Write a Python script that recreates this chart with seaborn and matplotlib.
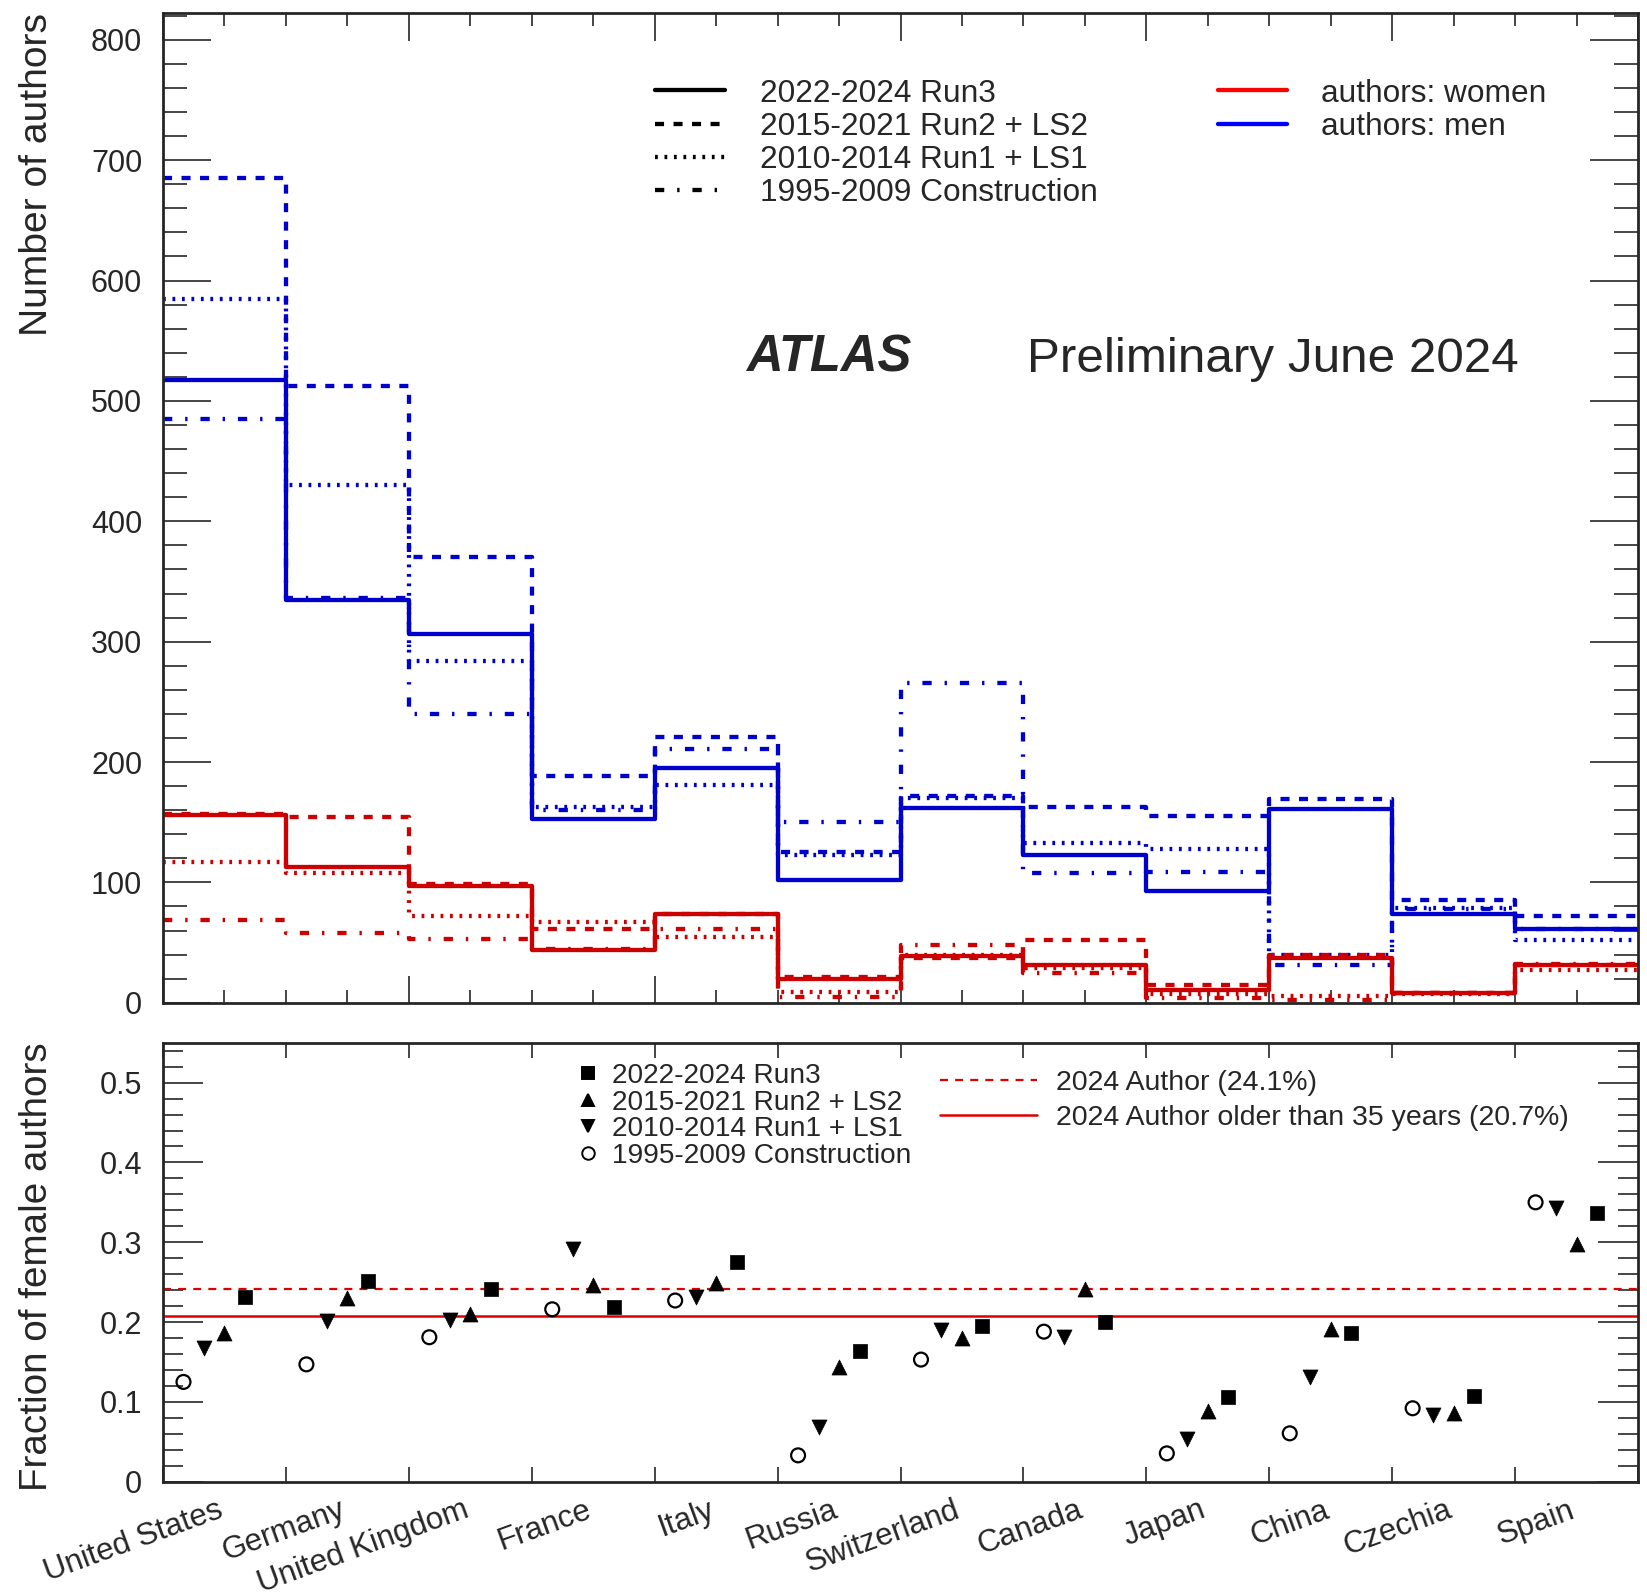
import numpy as np
import matplotlib
matplotlib.use("Agg")
import matplotlib.pyplot as plt
import seaborn as sns
from matplotlib.ticker import MultipleLocator, FixedLocator, FuncFormatter, NullFormatter
from matplotlib.lines import Line2D

# ---------------- data ----------------
countries = ["United States", "Germany", "United Kingdom", "France", "Italy", "Russia",
             "Switzerland", "Canada", "Japan", "China", "Czechia", "Spain"]

periods = ["2022-2024 Run3", "2015-2021 Run2 + LS2", "2010-2014 Run1 + LS1", "1995-2009 Construction"]

men_run3 = [517, 335, 306, 153, 195, 102, 162, 123, 93, 161, 74, 61]
men_run2 = [685, 512, 370, 188, 221, 125, 172, 163, 155, 169, 85, 72]
men_run1 = [585, 430, 284, 163, 181, 123, 170, 133, 128, 40, 79, 52]
men_constr = [485, 336, 240, 160, 211, 150, 266, 108, 109, 31, 78, 61]

women_run3 = [156, 113, 97, 44, 74, 20, 39, 31, 11, 37, 8.5, 31]
women_run2 = [157, 154, 99, 61.5, 73.5, 21.5, 37.5, 52, 15, 40, 8, 31]
women_run1 = [117, 108, 72, 67, 54.5, 9, 40, 29, 7, 6, 7.2, 27]
women_constr = [69, 58, 53, 44.5, 61.5, 5, 48, 25, 4, 2, 7.9, 32]

frac_run3 = [0.231, 0.252, 0.241, 0.219, 0.275, 0.164, 0.195, 0.200, 0.106, 0.1865, 0.107, 0.337]
frac_run2 = [0.186, 0.230, 0.210, 0.246, 0.249, 0.144, 0.180, 0.242, 0.088, 0.191, 0.086, 0.2975]
frac_run1 = [0.167, 0.201, 0.203, 0.291, 0.232, 0.068, 0.190, 0.181, 0.053, 0.131, 0.0835, 0.343]
frac_constr = [0.125, 0.147, 0.181, 0.216, 0.227, 0.033, 0.153, 0.188, 0.0355, 0.0606, 0.092, 0.350]

ref_all = 0.241
ref_old = 0.207
ref_labels = ["2024 Author (24.1%)", "2024 Author older than 35 years (20.7%)"]

# ---------------- style ----------------
sns.set_theme(style="ticks")
plt.rcParams["font.family"] = ["Liberation Sans", "DejaVu Sans"]
plt.rcParams["axes.linewidth"] = 2.0

W, H, DPI = 1647, 1592, 100
fig = plt.figure(figsize=(W / DPI, H / DPI), dpi=DPI)


def px_axes(left, top, right, bottom):
    return fig.add_axes([left / W, 1 - bottom / H, (right - left) / W, (bottom - top) / H])


ax1 = px_axes(163, 13.3, 1638, 1002.8)
ax2 = px_axes(163, 1042.7, 1638, 1481.7)

BLUE = "#0000cc"
RED = "#cc0000"
LW = 3.1
styles = ["-", (0, (2.1, 2.2)), (0, (0.65, 1.55)), (0, (2.15, 3.0, 0.55, 3.0))]

n = len(countries)
edges = np.arange(n + 1)
centers = np.arange(n) + 0.5

men = [men_run3, men_run2, men_run1, men_constr]
women = [women_run3, women_run2, women_run1, women_constr]

for series, color in ((men, BLUE), (women, RED)):
    for vals, ls in zip(series, styles):
        sns.lineplot(x=edges, y=np.append(vals, vals[-1]), drawstyle="steps-post",
                     estimator=None, errorbar=None, sort=False,
                     color=color, linewidth=LW, linestyle=ls, ax=ax1)

ax1.set_xlim(0, n)
ax1.set_ylim(0, 822)
ax1.set_xlabel("")
ax1.set_ylabel("Number of authors", fontsize=28.1, loc="top")
ax1.yaxis.set_label_coords((55 - 163) / 1475, 1.0)

ax1.yaxis.set_major_locator(MultipleLocator(100))
ax1.yaxis.set_minor_locator(MultipleLocator(20))
ax1.xaxis.set_major_locator(MultipleLocator(2))
ax1.xaxis.set_minor_locator(MultipleLocator(0.5))
ax1.xaxis.set_major_formatter(NullFormatter())
ax1.tick_params(axis="y", which="major", direction="in", length=34.6, width=1.2,
                left=True, right=True, labelsize=22, pad=15)
ax1.tick_params(axis="y", which="minor", direction="in", length=17.3, width=1.2,
                left=True, right=True)
ax1.tick_params(axis="x", which="major", direction="in", length=19.8, width=1.2,
                top=True, bottom=True, labelbottom=False)
ax1.tick_params(axis="x", which="minor", direction="in", length=9.6, width=1.2,
                top=True, bottom=True)
for sp in ax1.spines.values():
    sp.set_visible(True)
    sp.set_linewidth(2.0)

ax1.text(0.3953, 0.6375, "ATLAS", transform=ax1.transAxes, fontsize=36.5,
         fontweight="bold", fontstyle="italic", va="baseline", ha="left")
ax1.text(0.586, 0.6375, "Preliminary June 2024", transform=ax1.transAxes, fontsize=35.6,
         va="baseline", ha="left")

h_periods = [Line2D([], [], color="black", lw=LW, ls=ls) for ls in styles]
leg1 = ax1.legend(h_periods, periods, loc="upper left",
                  bbox_to_anchor=(654.7 / W, 1 - 78.5 / H), bbox_transform=fig.transFigure,
                  frameon=False, fontsize=22.8, handlelength=2.22, handletextpad=1.11,
                  labelspacing=0.10, borderpad=0, borderaxespad=0)
ax1.add_artist(leg1)
h_gender = [Line2D([], [], color="#ff0000", lw=LW), Line2D([], [], color="#0000ff", lw=LW)]
leg2 = ax1.legend(h_gender, ["authors: women", "authors: men"], loc="upper left",
                  bbox_to_anchor=(1218 / W, 1 - 78.5 / H), bbox_transform=fig.transFigure,
                  frameon=False, fontsize=22.8, handlelength=2.18, handletextpad=1.06,
                  labelspacing=0.10, borderpad=0, borderaxespad=0)

# ---------------- lower panel ----------------
fracs = [frac_run3, frac_run2, frac_run1, frac_constr]
markers = ["s", "^", "v", "o"]
offsets = [4 / 6, 3 / 6, 2 / 6, 1 / 6]
sizes = [112, 117, 117, 100]

ax2.axhline(ref_all, color="#dd0000", lw=1.6, ls=(0, (3.6, 3.2)), zorder=2)
ax2.axhline(ref_old, color="#dd0000", lw=1.8, ls="-", zorder=2)

for fr, mk, off, sz in zip(fracs, markers, offsets, sizes):
    sns.scatterplot(x=np.arange(n) + off, y=fr, marker=mk, s=sz, color="black",
                    edgecolor="black", linewidth=0.5, legend=False, ax=ax2, zorder=3)
    if mk == "o":
        pc = ax2.collections[-1]
        pc.set_facecolor("none")
        pc.set_edgecolor("black")
        pc.set_linewidth(1.6)

ax2.set_xlim(0, n)
ax2.set_ylim(0, 0.55)
ax2.set_xlabel("")
ax2.set_ylabel("Fraction of female authors", fontsize=27.8, loc="top")
ax2.yaxis.set_label_coords((55 - 163) / 1475, 1.0)

ax2.yaxis.set_major_locator(MultipleLocator(0.1))
ax2.yaxis.set_minor_locator(MultipleLocator(0.02))
ax2.yaxis.set_major_formatter(FuncFormatter(lambda v, p: f"{v:.1f}".rstrip("0").rstrip(".") if v > 1e-9 else "0"))
# label anchors sit slightly left of bin centres (8 px of a 123 px bin)
label_pos = centers - 8 / 122.9
ax2.xaxis.set_major_locator(FixedLocator(label_pos))
ax2.xaxis.set_minor_locator(FixedLocator(edges))
ax2.set_xticklabels(countries, rotation=20, ha="right", rotation_mode="anchor", fontsize=22.5)
ax2.tick_params(axis="y", which="major", direction="in", length=28.8, width=1.2,
                left=True, right=True, labelsize=22, pad=15)
ax2.tick_params(axis="y", which="minor", direction="in", length=14.4, width=1.2,
                left=True, right=True)
ax2.tick_params(axis="x", which="major", direction="in", length=0, pad=9.6,
                top=False, bottom=True)
ax2.tick_params(axis="x", which="minor", direction="in", length=10.5, width=1.2,
                top=True, bottom=True)
for sp in ax2.spines.values():
    sp.set_visible(True)
    sp.set_linewidth(2.0)

h_marks = [Line2D([], [], marker=mk, ls="none", color="black", markersize=9,
                  markerfacecolor=("none" if mk == "o" else "black"), markeredgewidth=1.4)
           for mk in markers]
leg3 = ax2.legend(h_marks, periods, loc="upper left",
                  bbox_to_anchor=(576.8 / W, 1 - 1063 / H), bbox_transform=fig.transFigure,
                  frameon=False, fontsize=20.2, handlelength=0.8, handletextpad=0.45,
                  labelspacing=0.02, borderpad=0, borderaxespad=0)
ax2.add_artist(leg3)
h_refs = [Line2D([], [], color="#dd0000", lw=1.6, ls=(0, (3.6, 3.2))),
          Line2D([], [], color="#dd0000", lw=1.8)]
leg4 = ax2.legend(h_refs, ref_labels, loc="upper left",
                  bbox_to_anchor=(940.4 / W, 1 - 1070 / H), bbox_transform=fig.transFigure,
                  frameon=False, fontsize=20.5, handlelength=3.4, handletextpad=0.67,
                  labelspacing=0.30, borderpad=0, borderaxespad=0)

fig.savefig("out.png", dpi=DPI)
